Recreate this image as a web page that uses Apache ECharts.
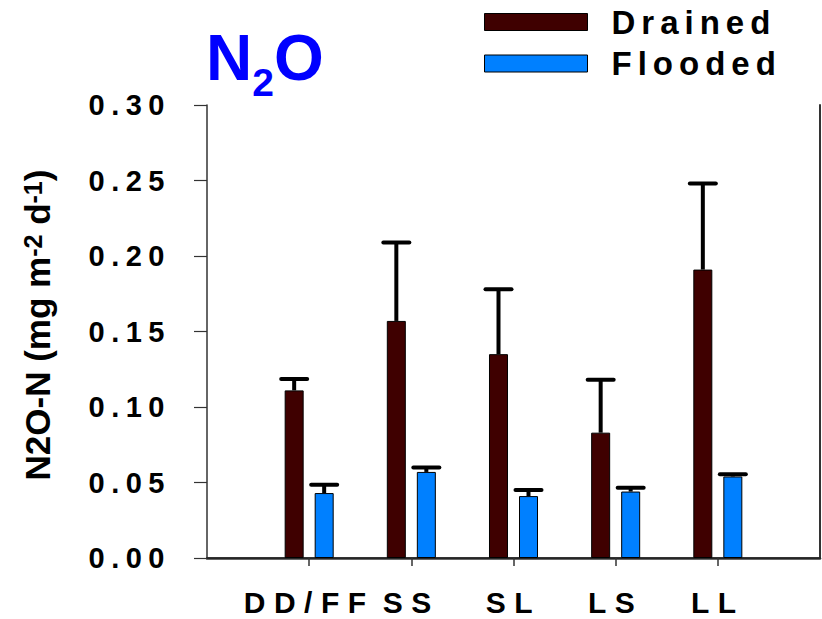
<!DOCTYPE html>
<html>
<head>
<meta charset="utf-8">
<script src="https://cdn.jsdelivr.net/npm/echarts@6/dist/echarts.min.js"></script>
<style>
  html, body { margin: 0; padding: 0; background: #fff; }
  #chart { width: 822px; height: 619px; }
</style>
</head>
<body>
<div id="chart"></div>
<script>
// ---- data ----
const categories = ['DD/FF', 'SS', 'SL', 'LS', 'LL'];
const drained    = [0.111, 0.157, 0.135, 0.083, 0.191];
const drainedErr = [0.0075, 0.052, 0.043, 0.035, 0.057];
const flooded    = [0.043, 0.057, 0.041, 0.044, 0.054];
const floodedErr = [0.0055, 0.003, 0.004, 0.0025, 0.0014];
const seriesNames = ['Drained', 'Flooded'];
const yTickLabels = ['0.00', '0.05', '0.10', '0.15', '0.20', '0.25', '0.30'];
const yMin = 0, yMax = 0.30, yStep = 0.05;

// ---- styles ----
const FONT = "'Liberation Sans', Arial, sans-serif";
const DRAINED_COLOR = '#3f0000';
const FLOODED_COLOR = '#0080ff';
const BAR_OFFSET = 15;

// axis categories with empty slots at both ends (axis spans 0..6)
const xCats = [''].concat(categories, ['']);
const pad = arr => [null].concat(arr, [null]);

function errItem(offset) {
  return function (params, api) {
    const x = api.value(0), m = api.value(1), e = api.value(2);
    const base = api.coord([x, m]);
    const top = api.coord([x, m + e]);
    const cx = base[0] + offset;
    return {
      type: 'group',
      children: [
        { type: 'line', shape: { x1: cx, y1: base[1], x2: cx, y2: top[1] },
          style: { stroke: '#000', lineWidth: 4 } },
        { type: 'line', shape: { x1: cx - 13, y1: top[1], x2: cx + 13, y2: top[1] },
          style: { stroke: '#000', lineWidth: 4, lineCap: 'round' } }
      ]
    };
  };
}

const chart = echarts.init(document.getElementById('chart'), null, { renderer: 'svg' });

const option = {
  animation: false,
  backgroundColor: '#fff',
  textStyle: { fontFamily: FONT },
  title: {
    text: '{m|N}{s|2}{m|O}',
    left: 206,
    top: 26,
    padding: 0,
    textStyle: {
      rich: {
        m: { fontFamily: FONT, fontSize: 64, fontWeight: 'bold', color: '#0000ff', lineHeight: 64, verticalAlign: 'top' },
        s: { fontFamily: FONT, fontSize: 39, fontWeight: 'bold', color: '#0000ff', lineHeight: 76, verticalAlign: 'bottom' }
      }
    }
  },
  legend: {
    data: seriesNames,
    orient: 'vertical',
    left: 484,
    top: 5.5,
    padding: 0,
    itemWidth: 103,
    itemHeight: 17,
    itemGap: 8.5,
    icon: 'rect',
    itemStyle: { borderColor: '#000', borderWidth: 1 },
    textStyle: { fontFamily: FONT, fontSize: 33, fontWeight: 'bold', color: '#000', lineHeight: 33, padding: [0, 0, 0, 19] }
  },
  grid: { left: 207, right: 2, top: 105, bottom: 61, containLabel: false },
  xAxis: [
    {
      type: 'category',
      data: xCats,
      boundaryGap: false,
      axisLine: { show: true, lineStyle: { color: '#333', width: 2.5 } },
      axisTick: {
        show: true, inside: false, length: 8,
        interval: function (idx) { return idx >= 1 && idx <= categories.length; },
        lineStyle: { color: '#333', width: 1.5 }
      },
      axisLabel: {
        show: true, margin: 32, lineHeight: 24,
        interval: function (idx) { return idx >= 1 && idx <= categories.length; },
        fontFamily: FONT, fontSize: 30, fontWeight: 'bold', color: '#000'
      },
      splitLine: { show: false }
    },
    {
      type: 'category',
      data: xCats,
      boundaryGap: false,
      position: 'top',
      axisLine: { show: true, lineStyle: { color: '#222', width: 1.5 } },
      axisTick: { show: false },
      axisLabel: { show: false },
      splitLine: { show: false }
    }
  ],
  yAxis: [
    {
      type: 'value',
      min: yMin, max: yMax, interval: yStep,
      name: '{a|N2O-N (mg m}{s|-2}{a| d}{s|-1}{a|)}',
      nameLocation: 'middle',
      nameGap: 152,
      nameTextStyle: {
        padding: [0, 0, 0, 13],
        rich: {
          a: { fontFamily: FONT, fontSize: 35, fontWeight: 'bold', color: '#000', lineHeight: 35, verticalAlign: 'bottom' },
          s: { fontFamily: FONT, fontSize: 25, fontWeight: 'bold', color: '#000', lineHeight: 25, verticalAlign: 'top' }
        }
      },
      axisLine: { show: true, lineStyle: { color: '#333', width: 1.5 } },
      axisTick: { show: true, inside: false, length: 13, lineStyle: { color: '#333', width: 1.2 } },
      axisLabel: {
        margin: 36,
        formatter: function (v) { return yTickLabels[Math.round((v - yMin) / yStep)] || v.toFixed(2); },
        fontFamily: FONT, fontSize: 29, fontWeight: 'bold', color: '#000'
      },
      splitLine: { show: false }
    },
    {
      type: 'value',
      min: yMin, max: yMax, interval: yStep,
      position: 'right',
      axisLine: { show: true, lineStyle: { color: '#333', width: 2 } },
      axisTick: { show: false },
      axisLabel: { show: false },
      splitLine: { show: false }
    }
  ],
  series: [
    {
      name: seriesNames[0], type: 'bar', xAxisIndex: 0, yAxisIndex: 0,
      data: pad(drained),
      barWidth: 19, barGap: '58%',
      itemStyle: { color: DRAINED_COLOR, borderColor: '#000', borderWidth: 1 }
    },
    {
      name: seriesNames[1], type: 'bar', xAxisIndex: 0, yAxisIndex: 0,
      data: pad(flooded),
      barWidth: 19, barGap: '58%',
      itemStyle: { color: FLOODED_COLOR, borderColor: '#000', borderWidth: 1 }
    },
    {
      type: 'custom', xAxisIndex: 0, yAxisIndex: 0, z: 5,
      renderItem: errItem(-BAR_OFFSET),
      encode: { x: 0, y: 1 },
      data: categories.map((c, i) => [i + 1, drained[i], drainedErr[i]])
    },
    {
      type: 'custom', xAxisIndex: 0, yAxisIndex: 0, z: 5,
      renderItem: errItem(BAR_OFFSET),
      encode: { x: 0, y: 1 },
      data: categories.map((c, i) => [i + 1, flooded[i], floodedErr[i]])
    }
  ]
};

chart.setOption(option);

// letter spacing like the original typesetting
function applySpacing() {
  const spacing = new Map();
  yTickLabels.forEach(t => spacing.set(t, 6.5));
  categories.forEach(t => spacing.set(t, 8.5));
  seriesNames.forEach(t => spacing.set(t, 6));
  document.querySelectorAll('#chart text').forEach(t => {
    const s = spacing.get(t.textContent);
    if (s != null) t.setAttribute('letter-spacing', s);
  });
}
applySpacing();
chart.on('finished', applySpacing);
</script>
</body>
</html>
